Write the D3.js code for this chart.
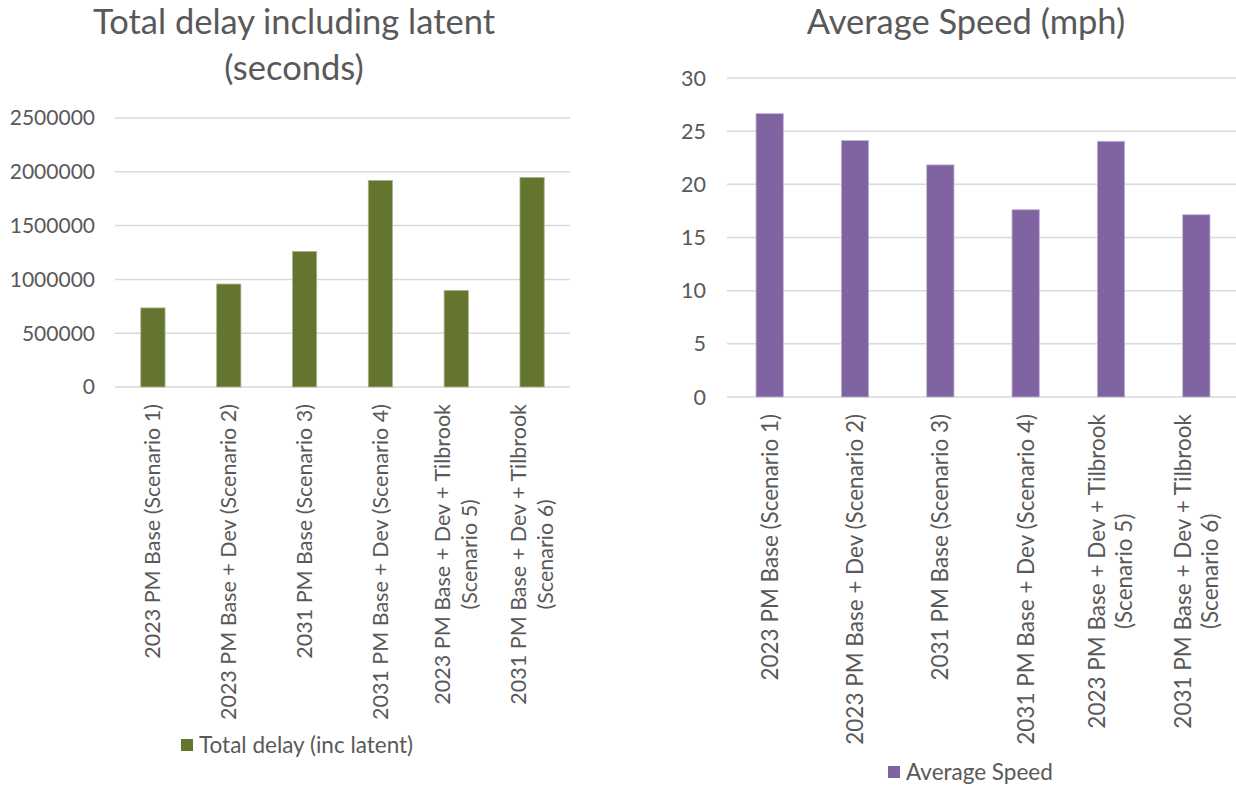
<!DOCTYPE html>
<html>
<head>
<meta charset="utf-8">
<script src="https://cdn.jsdelivr.net/npm/d3@7"></script>
<style>
  body { margin: 0; background: #fff; }
  svg text { font-family: Lato, "Open Sans", sans-serif; fill: #595959; }
</style>
</head>
<body>
<svg id="chart" width="1236" height="787"></svg>
<script>
// Scenario labels (split into lines as on the axis)
const scenarios = [
  ["2023 PM Base (Scenario 1)"],
  ["2023 PM Base + Dev (Scenario 2)"],
  ["2031 PM Base (Scenario 3)"],
  ["2031 PM Base + Dev (Scenario 4)"],
  ["2023 PM Base + Dev + Tilbrook", "(Scenario 5)"],
  ["2031 PM Base + Dev + Tilbrook", "(Scenario 6)"]
];

// Total delay including latent (seconds)
const totalDelay = [735000, 957000, 1260000, 1920000, 898000, 1948000];
const delayTicks = [0, 500000, 1000000, 1500000, 2000000, 2500000];

// Average speed (mph)
const avgSpeed = [26.65, 24.12, 21.83, 17.61, 24.05, 17.14];
const speedTicks = [0, 5, 10, 15, 20, 25, 30];

const svg = d3.select("#chart");

function drawChart(opt) {
  const g = svg.append("g");

  const x = d3.scaleBand()
      .domain(d3.range(opt.values.length))
      .range([opt.left, opt.right])
      .paddingInner(0.68)
      .paddingOuter(0.34);

  const y = d3.scaleLinear()
      .domain([0, d3.max(opt.ticks)])
      .range([opt.bottom, opt.top]);

  // gridlines
  g.append("g")
    .selectAll("line")
    .data(opt.ticks)
    .join("line")
      .attr("x1", opt.left)
      .attr("x2", opt.right)
      .attr("y1", d => y(d))
      .attr("y2", d => y(d))
      .attr("stroke", "#d9d9d9")
      .attr("stroke-width", 1.5);

  // y tick labels
  g.append("g")
    .selectAll("text")
    .data(opt.ticks)
    .join("text")
      .attr("x", opt.left - opt.tickGap)
      .attr("y", d => y(d))
      .attr("dy", "0.35em")
      .attr("text-anchor", "end")
      .style("font-size", opt.tickSize + "px")
      .text(d => d);

  // bars
  g.append("g")
    .selectAll("rect")
    .data(opt.values)
    .join("rect")
      .attr("x", (d, i) => x(i))
      .attr("y", d => y(d))
      .attr("width", x.bandwidth())
      .attr("height", d => y(0) - y(d))
      .attr("fill", opt.color)
      .attr("stroke", opt.edge)
      .attr("stroke-width", 0.8);

  // rotated category labels
  const lineGap = 27;
  scenarios.forEach((lines, i) => {
    const cx = x(i) + x.bandwidth() / 2;
    const lab = g.append("g");
    const texts = lines.map(s => lab.append("text")
        .attr("text-anchor", "middle")
        .style("font-size", opt.fontSize + "px")
        .text(s));
    const maxLen = d3.max(texts, t => t.node().getComputedTextLength());
    const cy = opt.bottom + opt.labelGap + maxLen / 2;
    texts.forEach((t, j) => {
      const lx = cx + (j - (lines.length - 1) / 2) * lineGap;
      t.attr("transform", `translate(${lx},${cy}) rotate(-90)`)
       .attr("dy", "0.35em");
    });
  });

  // title
  opt.title.forEach((s, j) => {
    g.append("text")
      .attr("x", opt.titleX)
      .attr("y", opt.titleY + j * 46)
      .attr("text-anchor", "middle")
      .style("font-size", opt.titleSize + "px")
      .text(s);
  });

  // legend
  g.append("rect")
    .attr("x", opt.legendX)
    .attr("y", opt.legendY - 6)
    .attr("width", 12)
    .attr("height", 12)
    .attr("fill", opt.color);
  g.append("text")
    .attr("x", opt.legendX + 18)
    .attr("y", opt.legendY)
    .attr("dy", "0.35em")
    .style("font-size", opt.legendSize + "px")
    .text(opt.legend);
}

drawChart({
  values: totalDelay, ticks: delayTicks,
  left: 115, right: 570, top: 118, bottom: 387,
  color: "#63752f", edge: "#a9b890",
  fontSize: 21.5, tickSize: 21, tickGap: 20, labelGap: 17,
  title: ["Total delay including latent", "(seconds)"],
  titleX: 294, titleY: 34, titleSize: 34.5,
  legend: "Total delay (inc latent)", legendX: 181, legendY: 745, legendSize: 22.5
});

drawChart({
  values: avgSpeed, ticks: speedTicks,
  left: 727, right: 1239, top: 78, bottom: 397,
  color: "#8064a2", edge: "#c3b3d6",
  fontSize: 22.5, tickSize: 21.5, tickGap: 21, labelGap: 17,
  title: ["Average Speed (mph)"],
  titleX: 966, titleY: 34, titleSize: 34.5,
  legend: "Average Speed", legendX: 888, legendY: 772, legendSize: 22.5
});
</script>
</body>
</html>
